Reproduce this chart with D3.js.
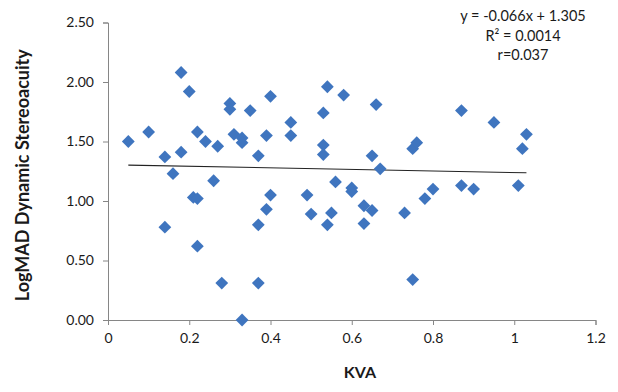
<!DOCTYPE html>
<html>
<head>
<meta charset="utf-8">
<script src="https://cdn.jsdelivr.net/npm/d3@7"></script>
<style>
  html, body { margin: 0; padding: 0; background: #fff; }
  svg text { font-family: Lato, "Open Sans", sans-serif; fill: #1a1a1a; }
</style>
</head>
<body>
<div id="chart"></div>
<script>
// KVA vs LogMAD dynamic stereoacuity
const kva = [
  0.05, 0.10, 0.14, 0.14, 0.16, 0.18, 0.18, 0.20, 0.21, 0.22,
  0.22, 0.22, 0.24, 0.26, 0.27, 0.28, 0.30, 0.30, 0.31, 0.33,
  0.33, 0.33, 0.35, 0.37, 0.37, 0.37, 0.39, 0.39, 0.40, 0.40,
  0.45, 0.45, 0.49, 0.50, 0.53, 0.53, 0.53, 0.54, 0.54, 0.55,
  0.56, 0.58, 0.60, 0.60, 0.63, 0.63, 0.65, 0.65, 0.66, 0.67,
  0.73, 0.75, 0.75, 0.76, 0.78, 0.80, 0.87, 0.87, 0.90, 0.95,
  1.02, 1.01, 1.03
];
const logmad = [
  1.50, 1.58, 1.37, 0.78, 1.23, 2.08, 1.41, 1.92, 1.03, 1.02,
  1.58, 0.62, 1.50, 1.17, 1.46, 0.31, 1.82, 1.77, 1.56, 1.53,
  1.49, 0.00, 1.76, 1.38, 0.80, 0.31, 1.55, 0.93, 1.88, 1.05,
  1.66, 1.55, 1.05, 0.89, 1.74, 1.47, 1.39, 1.96, 0.80, 0.90,
  1.16, 1.89, 1.11, 1.08, 0.96, 0.81, 0.92, 1.38, 1.81, 1.27,
  0.90, 0.34, 1.44, 1.49, 1.02, 1.10, 1.76, 1.13, 1.10, 1.66,
  1.44, 1.13, 1.56
];
const xTicks = [0, 0.2, 0.4, 0.6, 0.8, 1, 1.2];
const yTicks = [0, 0.5, 1, 1.5, 2, 2.5];
const trendSlope = -0.066;
const trendIntercept = 1.305;
const annotation = ["y = -0.066x + 1.305", "R² = 0.0014", "r=0.037"];

let width = 618, height = 392;
let margin = { top: 22.5, right: 22.5, bottom: 72, left: 108 };

let svg = d3.select('#chart').append('svg')
  .attr('width', width)
  .attr('height', height);

let x = d3.scaleLinear().domain([0, 1.2]).range([margin.left, width - margin.right]);
let y = d3.scaleLinear().domain([0, 2.5]).range([height - margin.bottom, margin.top]);

let axisColor = '#868686';

let xAxis = svg.append('g')
  .attr('transform', 'translate(0,' + y(0) + ')')
  .call(d3.axisBottom(x).tickValues(xTicks).tickFormat(d3.format('')).tickSize(5).tickPadding(8));
let yAxis = svg.append('g')
  .attr('transform', 'translate(' + x(0) + ',0)')
  .call(d3.axisLeft(y).tickValues(yTicks).tickFormat(d3.format('.2f')).tickSize(5).tickPadding(9));

[xAxis, yAxis].forEach(a => {
  a.select('.domain').attr('stroke', axisColor);
  a.selectAll('.tick line').attr('stroke', axisColor);
  a.selectAll('.tick text').style('font-size', '14px');
});

// trend line over the data range
let xr = d3.extent(kva);
svg.append('line')
  .attr('x1', x(xr[0])).attr('y1', y(trendSlope * xr[0] + trendIntercept))
  .attr('x2', x(xr[1])).attr('y2', y(trendSlope * xr[1] + trendIntercept))
  .attr('stroke', '#222')
  .attr('stroke-width', 1.1);

let points = kva.map((k, i) => [k, logmad[i]]);
svg.append('g')
  .selectAll('path')
  .data(points)
  .enter()
    .append('path')
      .attr('transform', d => 'translate(' + x(d[0]) + ',' + y(d[1]) + ') rotate(45)')
      .attr('d', d3.symbol().type(d3.symbolSquare).size(82))
      .attr('fill', '#3f75bf');

svg.append('text')
  .attr('x', 360)
  .attr('y', 378)
  .attr('text-anchor', 'middle')
  .style('font-size', '16px')
  .style('font-weight', 'bold')
  .text('KVA');

svg.append('text')
  .attr('transform', 'translate(29,' + (y(1.25) + 4) + ') rotate(-90)')
  .attr('text-anchor', 'middle')
  .style('font-size', '18px')
  .style('font-weight', 'bold')
  .text('LogMAD  Dynamic Stereoacuity');

svg.append('g')
  .selectAll('text')
  .data(annotation)
  .enter()
    .append('text')
      .attr('x', 523)
      .attr('y', (d, i) => 21 + i * 19.5)
      .attr('text-anchor', 'middle')
      .style('font-size', '14.5px')
      .text(d => d);
</script>
</body>
</html>
